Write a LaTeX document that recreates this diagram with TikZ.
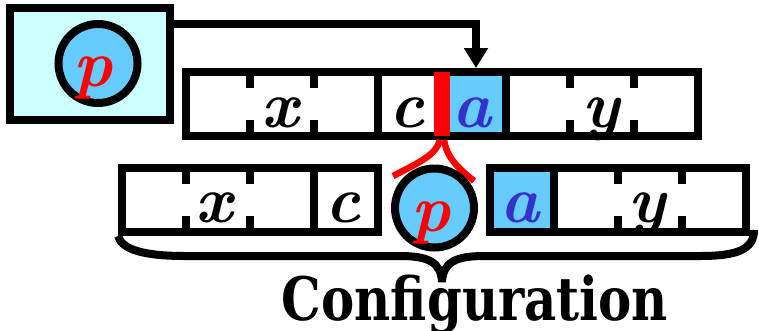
\documentclass[tikz,border=0pt]{standalone}
\usepackage{fontspec}
\newfontfamily\dvs{DejaVu Serif}
\usetikzlibrary{arrows.meta}
\definecolor{lcyan}{HTML}{CCFFFF}
\definecolor{cblue}{HTML}{66CCFF}
\definecolor{ablue}{HTML}{3333CC}
\newcommand{\letterfont}{\fontsize{66}{66}\selectfont\bfseries\itshape\addfontfeature{FakeBold=1.2}}
\begin{document}
\begin{tikzpicture}[x=1pt,y=-1pt,line width=8pt,
  lt/.style={font=\letterfont,inner sep=0pt,anchor=base},
  cellrow/.style={draw,inner sep=0pt,minimum height=64pt},
  ballnode/.style={circle,draw,fill=cblue,inner sep=0pt,minimum size=79pt},
  redline/.style={red,line width=6.5pt},
  tick/.style={line width=8pt}]
\useasboundingbox (0,0) rectangle (759,330);
\fill[white] (0,0) rectangle (759,330);

% top-left box with ball
\node[draw,fill=lcyan,inner sep=0pt,minimum width=160pt,minimum height=112pt] (pbox) at (90,64) {};
\node[ballnode] (ball1) at (98,63.5) {};
\node[lt,red] (p1) at (93,86) {p};

% arrow
\coordinate (ay) at (0,24);
\coordinate (ta) at (476,68);
\draw[-{Triangle[width=23pt,length=20pt]}] (pbox.east |- ay) -| (ta);

% top row
\fill[cblue] (446,72) rectangle (506,136);
\node[lt] (x1) at (280,127) {x};
\node[lt] (c1) at (407,127) {c};
\node[lt,ablue] (a1) at (472,127) {a};
\node[lt] (y1) at (601,127) {y};
\node[cellrow,minimum width=512pt] (rowA) at (442,104) {};
\draw (378,72) -- (378,136);
\draw (506,72) -- (506,136);
\foreach \t in {250,314,570,634}{
  \draw[tick] (\t,72) -- (\t,88);
  \draw[tick] (\t,120) -- (\t,136);
}
\node[fill=red,inner sep=0pt,minimum width=16pt,minimum height=64pt] (rbar) at (442,104) {};

% red split curves
\coordinate (rl) at (393,176);
\coordinate (rr) at (474,181);
\draw[redline] ([xshift=-2pt]rbar.south) .. controls (436,155) and (420,162) .. (rl);
\draw[redline] ([xshift=2pt]rbar.south) .. controls (447,158) and (458,168) .. (rr);

% bottom row left piece
\node[lt] (x2) at (214,222) {x};
\node[lt] (c2) at (343,222) {c};
\node[cellrow,minimum width=256pt] (rowL) at (250,200) {};
\draw (314,168) -- (314,232);
\foreach \t in {186,250}{
  \draw[tick] (\t,168) -- (\t,184);
  \draw[tick] (\t,216) -- (\t,232);
}

% bottom ball
\node[ballnode] (ball2) at (434.5,208) {};
\node[lt,red] (p2) at (431,231) {p};

% bottom row right piece
\fill[cblue] (490,168) rectangle (554,232);
\node[lt,ablue] (a2) at (520,222) {a};
\node[lt] (y2) at (647,222) {y};
\node[cellrow,minimum width=256pt] (rowR) at (618,200) {};
\draw (554,168) -- (554,232);
\foreach \t in {618,682}{
  \draw[tick] (\t,168) -- (\t,184);
  \draw[tick] (\t,216) -- (\t,232);
}

% brace
\draw (rowL.south west) .. controls (122,250) and (145,256) .. (185,256) -- (400,256)
  .. controls (428,256) and (441,262) .. (442,282)
  .. controls (443,262) and (456,256) .. (484,256) -- (700,256)
  .. controls (736,256) and (754,250) .. (754,230);

\node[font=\dvs\fontsize{60}{60}\selectfont\bfseries,anchor=base,inner sep=0pt] (conf) at (475,320) {\scalebox{0.83}[1]{Configuration}};
\end{tikzpicture}
\end{document}
